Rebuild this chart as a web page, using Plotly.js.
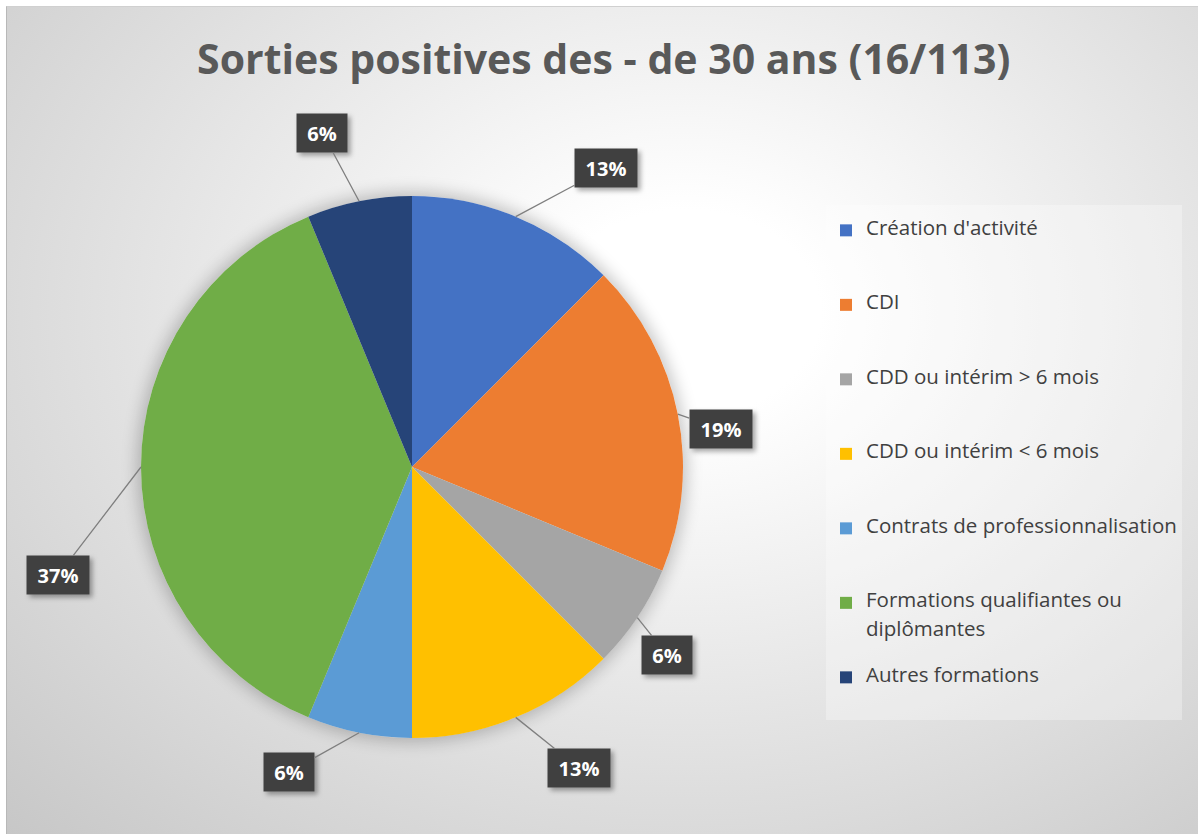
<!DOCTYPE html>
<html>
<head>
<meta charset="utf-8">
<script src="https://cdn.plot.ly/plotly-3.0.1.min.js"></script>
<style>
  html, body { margin:0; padding:0; background:#ffffff; }
  #bg { position:absolute; left:6px; top:6px; width:1192px; height:828px;
        background: radial-gradient(ellipse farthest-corner at 57% 37%, #ffffff 0%, #ffffff 14%, #c7c7c7 100%);
        border-left:1px solid #b8b8b8; border-top:1px solid #d0d0d0; box-sizing:border-box; }
  #pieshadow { position:absolute; border-radius:50%; box-shadow: 0 0 16px 4px rgba(0,0,0,0.22); }
  #chart { position:absolute; left:0; top:0; width:1198px; height:834px; }
</style>
</head>
<body>
<div id="bg"></div>
<div id="pieshadow"></div>
<div id="chart"></div>
<script>
// ---- data ----
const categories = ["Création d'activité", "CDI", "CDD ou intérim > 6 mois", "CDD ou intérim < 6 mois",
                    "Contrats de professionnalisation", "Formations qualifiantes ou diplômantes", "Autres formations"];
const counts = [2, 3, 1, 2, 1, 6, 1];
const pctLabels = ["13%", "19%", "6%", "13%", "6%", "37%", "6%"];
const chartTitle = "Sorties positives des - de 30 ans (16/113)";

// ---- styles / layout config ----
const colors = ["#4472C4", "#ED7D31", "#A5A5A5", "#FFC000", "#5B9BD5", "#70AD47", "#264478"];
const W = 1198, H = 834;
const pieCx = 412, pieCy = 467, pieR = 271;
// label placement tweaks (angle shift in degrees, radius factor) mimicking Excel best-fit
const labelAngleShift = [10.5, 4.25, 2.65, -6.5, 10.75, -17, -3.75];
const labelRadius = [1.314, 1.148, 1.17, 1.27, 1.214, 1.365, 1.277];

const sh = document.getElementById('pieshadow');
sh.style.left = (pieCx - pieR) + 'px'; sh.style.top = (pieCy - pieR) + 'px';
sh.style.width = (2 * pieR) + 'px'; sh.style.height = (2 * pieR) + 'px';

function wrap(s, maxLen) {
  if (s.length <= maxLen) return [s];
  const idx = s.lastIndexOf(' ', maxLen);
  return [s.slice(0, idx), s.slice(idx + 1)];
}
const legendTextSize = 20.5;
const legendLabels = categories.map((c, i) => {
  const parts = wrap(c, 33).map(t => '<span style="font-size:' + legendTextSize + 'px">' + t + '</span>');
  const lines = parts.length === 1 ? [parts[0]] : [parts[0], '\u00a0', parts[1]];
  const nLines = (i === categories.length - 1) ? 3 : 5;
  while (lines.length < nLines) lines.push('\u00a0');
  return lines.join('<br>');
});

const total = counts.reduce((a, b) => a + b, 0);
const annotations = [];
let acc = 0;
counts.forEach((v, i) => {
  const mid = (acc + v / 2) / total * 360;
  acc += v;
  const a = mid * Math.PI / 180;
  const ex = pieCx + pieR * Math.sin(a), ey = pieCy - pieR * Math.cos(a);
  const la = (mid + labelAngleShift[i]) * Math.PI / 180;
  const lx = pieCx + pieR * labelRadius[i] * Math.sin(la), ly = pieCy - pieR * labelRadius[i] * Math.cos(la);
  annotations.push({
    xref: 'paper', yref: 'paper', x: ex / W, y: 1 - ey / H,
    ax: lx - ex, ay: ly - ey, axref: 'pixel', ayref: 'pixel',
    text: pctLabels[i], showarrow: true, arrowhead: 0, arrowwidth: 1.3, arrowcolor: '#7f7f7f',
    standoff: 0, startstandoff: 0,
    font: {family: 'Open Sans, sans-serif', size: 20, color: '#ffffff', weight: 'bold'},
    bgcolor: '#404040', borderpad: 4, width: 12 * pctLabels[i].length + 18, height: 30
  });
});

const trace = {
  type: 'pie',
  labels: legendLabels,
  values: counts,
  sort: false,
  direction: 'clockwise',
  rotation: 0,
  textinfo: 'none',
  hoverinfo: 'percent',
  marker: {colors: colors, line: {width: 0}},
  domain: {x: [(pieCx - pieR) / W, (pieCx + pieR) / W], y: [1 - (pieCy + pieR) / H, 1 - (pieCy - pieR) / H]}
};

const layout = {
  width: W, height: H,
  margin: {l: 0, r: 0, t: 0, b: 0},
  paper_bgcolor: 'rgba(0,0,0,0)',
  plot_bgcolor: 'rgba(0,0,0,0)',
  title: {text: chartTitle, x: 0.504, xanchor: 'center', y: 1 - 60 / H, yanchor: 'middle', yref: 'paper',
          font: {family: 'Open Sans, sans-serif', size: 41, color: '#595959', weight: 'bold'}},
  showlegend: true,
  legend: {x: 826 / W, xanchor: 'left', y: 1 - 205 / H, yanchor: 'top', valign: 'top',
           bgcolor: 'rgba(255,255,255,0.3)', borderwidth: 0,
           title: {text: '\u00a0', font: {size: 9}},
           font: {family: 'Open Sans, sans-serif', size: 11, color: '#404040'}},
  annotations: annotations
};

Plotly.newPlot('chart', [trace], layout, {displayModeBar: false, staticPlot: true}).then(gd => {
  // soft drop shadow under the label boxes, as in the original
  const svgNS = 'http://www.w3.org/2000/svg';
  const svg = gd.querySelector('svg.main-svg:last-of-type') || gd.querySelector('svg.main-svg');
  const svgs = gd.querySelectorAll('svg.main-svg');
  const host = svgs[svgs.length - 1];
  let defs = host.querySelector('defs');
  if (!defs) { defs = document.createElementNS(svgNS, 'defs'); host.insertBefore(defs, host.firstChild); }
  const f = document.createElementNS(svgNS, 'filter');
  f.setAttribute('id', 'lblshadow');
  f.setAttribute('x', '-30%'); f.setAttribute('y', '-30%');
  f.setAttribute('width', '170%'); f.setAttribute('height', '170%');
  const ds = document.createElementNS(svgNS, 'feDropShadow');
  ds.setAttribute('dx', '3'); ds.setAttribute('dy', '3'); ds.setAttribute('stdDeviation', '2.5');
  ds.setAttribute('flood-color', '#000'); ds.setAttribute('flood-opacity', '0.35');
  f.appendChild(ds); defs.appendChild(f);
  gd.querySelectorAll('.annotation-text-g rect.bg').forEach(r => r.setAttribute('filter', 'url(#lblshadow)'));
});
</script>
</body>
</html>
